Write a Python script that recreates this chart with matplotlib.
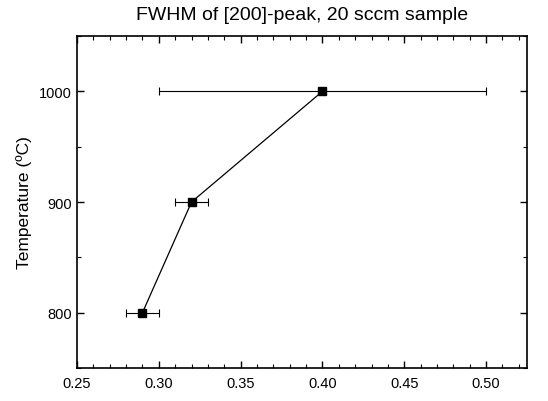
import matplotlib
matplotlib.use("Agg")
import matplotlib.pyplot as plt
from matplotlib.ticker import MultipleLocator

plt.rcParams['font.family'] = ['Liberation Sans', 'DejaVu Sans']

# FWHM values and temperatures
fwhm = [0.29, 0.32, 0.40]
temperature = [800, 900, 1000]
fwhm_err = [0.01, 0.01, 0.10]

fig = plt.figure(figsize=(5.48, 4.02), dpi=100)
ax = fig.add_axes([77/548, 33/402, 450/548, 332/402])

ax.errorbar(fwhm, temperature, xerr=fwhm_err, color='black', lw=0.9,
            marker='s', ms=5.5, mfc='black', mec='black',
            ecolor='black', elinewidth=0.8, capsize=3, capthick=0.8)

ax.set_xlim(0.25, 0.525)
ax.set_ylim(750, 1050)
ax.xaxis.set_major_locator(MultipleLocator(0.05))
ax.xaxis.set_minor_locator(MultipleLocator(0.01))
ax.yaxis.set_major_locator(MultipleLocator(100))
ax.yaxis.set_minor_locator(MultipleLocator(50))
ax.xaxis.set_major_formatter(plt.FormatStrFormatter('%.2f'))

ax.tick_params(which='both', direction='in', top=True, right=True, labelsize=10.5)
ax.tick_params(which='major', length=5, width=1)
ax.tick_params(which='minor', length=3, width=0.8)
ax.tick_params(axis='x', pad=6)
for s in ax.spines.values():
    s.set_linewidth(1.2)

ax.set_ylabel('Temperature (ºC)', fontsize=12.5, labelpad=5)
ax.set_title('FWHM of [200]-peak, 20 sccm sample', fontsize=14, pad=12)

fig.savefig('out.png', dpi=100)
